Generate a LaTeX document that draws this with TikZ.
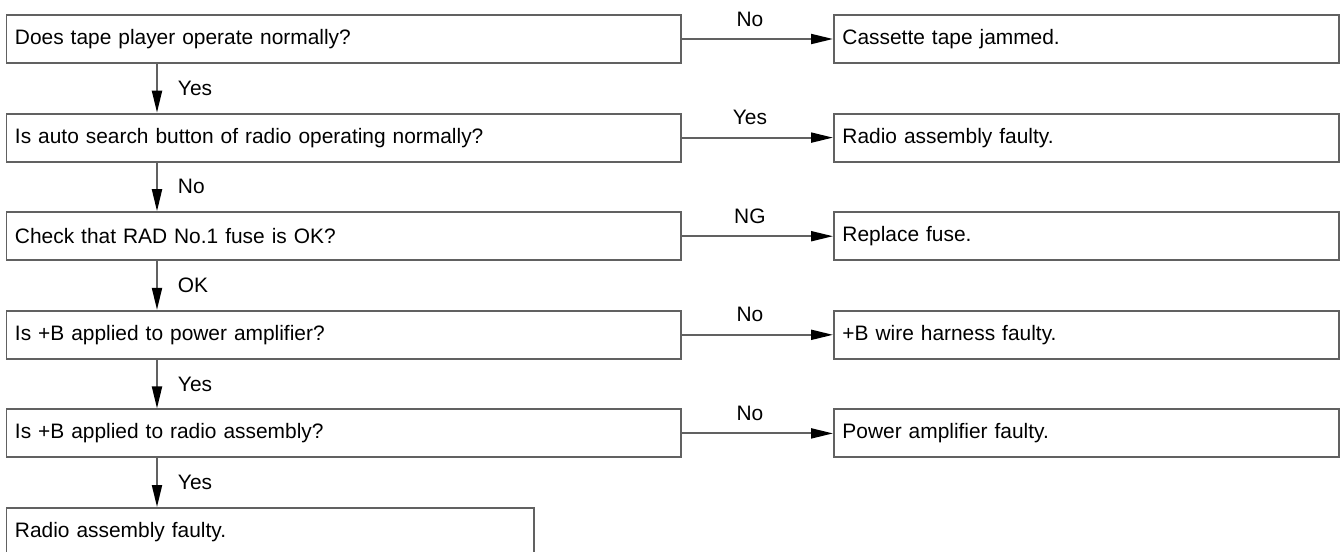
\documentclass[tikz,border=0pt]{standalone}
\usepackage{fontspec}
\setmainfont{Liberation Sans}
\usetikzlibrary{arrows.meta}

\newcommand{\dims}{
\def\xl{0.11}     % left edge of the question boxes
\def\xr{16.66}    % left edge of the result boxes
\def\xa{3.14}     % vertical arrows
\def\yo{-0.78}    % first row
\def\dy{1.972}    % row pitch
}
\newcommand{\hb}{0.96cm}

\tikzset{
  qbox/.style={draw=black!62, line width=1.1pt, anchor=west, minimum height=\hb,
    inner xsep=0.17cm, inner ysep=0pt, text width=#1, align=left,
    font=\fontsize{11.9}{14}\selectfont},
  arr/.style={draw=black!62, line width=1.1pt, -{Triangle[length=0.44cm,width=0.2cm,color=black]}},
  side/.style={pos=0.45, yshift=0.4cm, font=\fontsize{11.9}{14}\selectfont},
  down/.style={midway, anchor=west, xshift=0.4cm, inner sep=0pt, font=\fontsize{11.9}{14}\selectfont}
}

\begin{document}
\begin{tikzpicture}
  \dims
  \useasboundingbox (0,0) rectangle (26.82,-11.02);
  % questions
  \node[qbox=13.15cm] (q1) at (\xl,\yo) {Does tape player operate normally?};
  \node[qbox=13.15cm] (q2) at (\xl,{\yo-\dy}) {Is auto search button of radio operating normally?};
  \node[qbox=13.15cm] (q3) at (\xl,{\yo-2*\dy}) {Check that RAD No.1 fuse is OK?};
  \node[qbox=13.15cm] (q4) at (\xl,{\yo-3*\dy}) {Is +B applied to power amplifier?};
  \node[qbox=13.15cm] (q5) at (\xl,{\yo-4*\dy}) {Is +B applied to radio assembly?};
  \node[qbox=10.21cm] (q6) at (\xl,{\yo-5*\dy}) {Radio assembly faulty.};
  % results
  \node[qbox=9.76cm] (r1) at (\xr,\yo) {Cassette tape jammed.};
  \node[qbox=9.76cm] (r2) at (\xr,{\yo-\dy}) {Radio assembly faulty.};
  \node[qbox=9.76cm] (r3) at (\xr,{\yo-2*\dy}) {Replace fuse.};
  \node[qbox=9.76cm] (r4) at (\xr,{\yo-3*\dy}) {+B wire harness faulty.};
  \node[qbox=9.76cm] (r5) at (\xr,{\yo-4*\dy}) {Power amplifier faulty.};

  \coordinate (ax) at (\xa,0);
  \draw[arr] (q1.south -| ax) -- (q2.north -| ax) node[down] {Yes};
  \draw[arr] (q2.south -| ax) -- (q3.north -| ax) node[down] {No};
  \draw[arr] (q3.south -| ax) -- (q4.north -| ax) node[down] {OK};
  \draw[arr] (q4.south -| ax) -- (q5.north -| ax) node[down] {Yes};
  \draw[arr] (q5.south -| ax) -- (q6.north -| ax) node[down] {Yes};

  \draw[arr] (q1.east) -- (r1.west) node[side] {No};
  \draw[arr] (q2.east) -- (r2.west) node[side] {Yes};
  \draw[arr] (q3.east) -- (r3.west) node[side] {NG};
  \draw[arr] (q4.east) -- (r4.west) node[side] {No};
  \draw[arr] (q5.east) -- (r5.west) node[side] {No};
\end{tikzpicture}
\end{document}
